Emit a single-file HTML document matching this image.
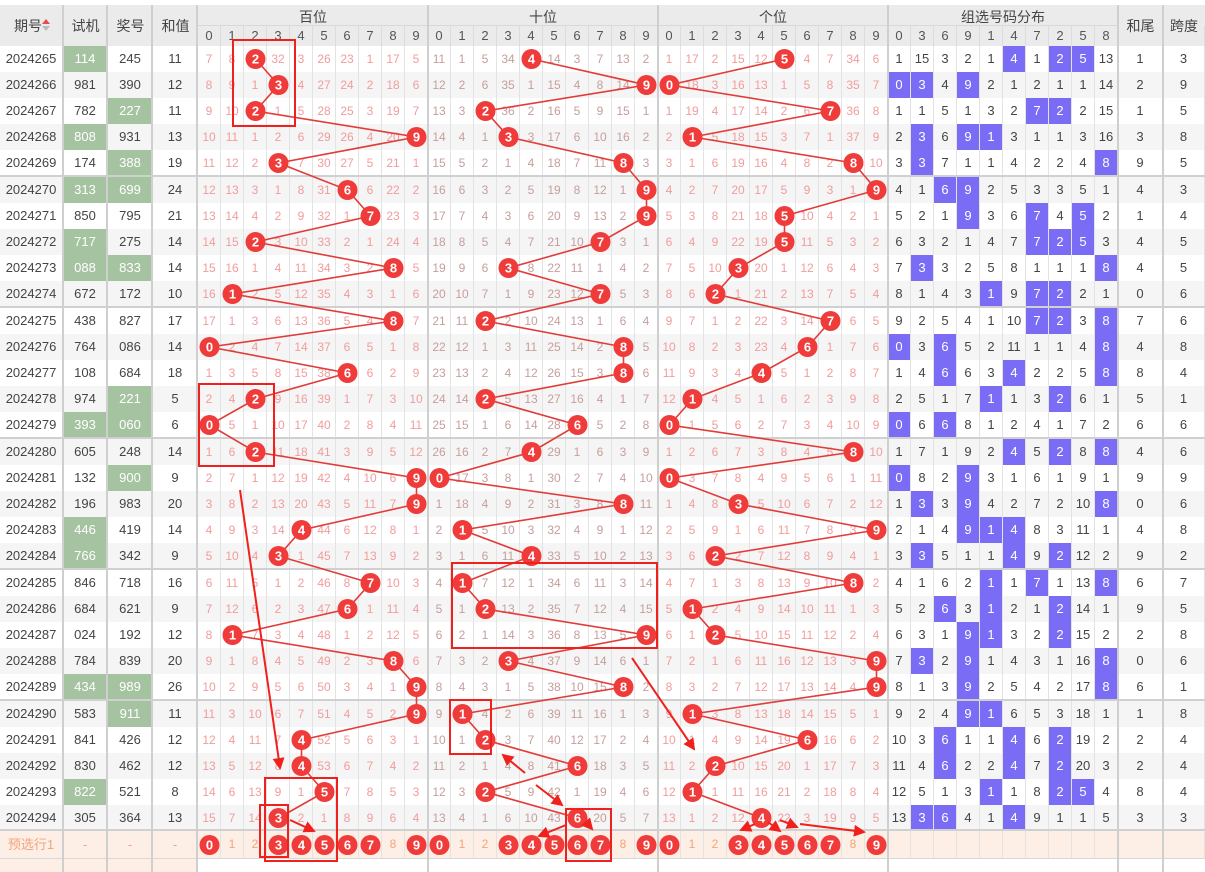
<!DOCTYPE html>
<html><head><meta charset="utf-8"><style>
body{margin:0;width:1205px;height:872px;position:relative;overflow:hidden;background:#fff;font-family:"Liberation Sans","Noto Sans CJK SC",sans-serif}
.r{position:absolute;left:0;width:1205px;height:26px;display:flex;line-height:26px;font-size:13px;color:#444;text-align:center}
.r>*{width:23px;flex:none;border-right:1px solid #e3e3e3;box-sizing:border-box;font-style:normal;height:100%}
.r>:nth-child(1){width:63px}
.r>:nth-child(2),.r>:nth-child(3),.r>:nth-child(4),.r>:nth-child(45){width:45px}
.r>:nth-child(46){width:42px}
.r>:nth-child(n+5):nth-child(-n+34){color:#f19c9c;font-size:12px}
.r>:nth-child(n+15):nth-child(-n+24){color:#c59f9c}
.o{background:#f5f5f5}
.r .k{background:#a6c3a1;color:#fff}
.r .p{background:#7b6cf6;color:#fff}
.hd{position:absolute;left:0;top:5px;width:1205px;height:41px;background:#ebebeb}
.r.h2{top:26px;height:20px;line-height:20px;background:transparent}
.r.h2>:nth-child(n):nth-child(n){color:#555;font-size:13px;border-right-color:#dcdcdc}
.lb{position:absolute;font-size:14px;color:#444;text-align:center}
.vl{position:absolute;top:5px;width:2px;height:867px;background:#cfcfcf}
.hl{position:absolute;left:0;width:1205px;height:2px;background:#d0d0d0}
.pre{top:831px;height:27px;line-height:27px;background:#fdeee6}
.r.pre>:nth-child(n):nth-child(n){color:#f0a57a}
svg{position:absolute;left:0;top:0}
</style></head><body>
<div class="hd"></div>
<div class="r h2"><i></i><i></i><i></i><i></i><i>0</i><i>1</i><i>2</i><i>3</i><i>4</i><i>5</i><i>6</i><i>7</i><i>8</i><i>9</i><i>0</i><i>1</i><i>2</i><i>3</i><i>4</i><i>5</i><i>6</i><i>7</i><i>8</i><i>9</i><i>0</i><i>1</i><i>2</i><i>3</i><i>4</i><i>5</i><i>6</i><i>7</i><i>8</i><i>9</i><i>0</i><i>3</i><i>6</i><i>9</i><i>1</i><i>4</i><i>7</i><i>2</i><i>5</i><i>8</i><i></i><i></i></div>
<div class="lb" style="left:0;top:16px;width:56px">期号</div>
<div style="position:absolute;left:42px;top:19px;width:0;height:0;border:4px solid transparent;border-bottom:5px solid #e84c4c;border-top:0"></div>
<div style="position:absolute;left:42px;top:26px;width:0;height:0;border:4px solid transparent;border-top:5px solid #bbb;border-bottom:0"></div>
<div class="lb" style="left:63px;top:16px;width:45px">试机</div>
<div class="lb" style="left:108px;top:16px;width:45px">奖号</div>
<div class="lb" style="left:153px;top:16px;width:45px">和值</div>
<div class="lb" style="left:198px;top:7px;width:230px">百位</div>
<div class="lb" style="left:428px;top:7px;width:230px">十位</div>
<div class="lb" style="left:658px;top:7px;width:230px">个位</div>
<div class="lb" style="left:888px;top:7px;width:230px">组选号码分布</div>
<div class="lb" style="left:1118px;top:16px;width:45px">和尾</div>
<div class="lb" style="left:1163px;top:16px;width:42px">跨度</div>
<div style="position:absolute;left:198px;top:25px;width:920px;height:1px;background:#d8d8d8"></div>

<div class="r" style="top:46px"><i>2024265</i><i class="k">114</i><i>245</i><i>11</i><i>7</i><i>8</i><i></i><i>32</i><i>3</i><i>26</i><i>23</i><i>1</i><i>17</i><i>5</i><i>11</i><i>1</i><i>5</i><i>34</i><i></i><i>14</i><i>3</i><i>7</i><i>13</i><i>2</i><i>1</i><i>17</i><i>2</i><i>15</i><i>12</i><i></i><i>4</i><i>7</i><i>34</i><i>6</i><i>1</i><i>15</i><i>3</i><i>2</i><i>1</i><i class="p">4</i><i>1</i><i class="p">2</i><i class="p">5</i><i>13</i><i>1</i><i>3</i></div>
<div class="r o" style="top:72px"><i>2024266</i><i>981</i><i>390</i><i>12</i><i>8</i><i>9</i><i>1</i><i></i><i>4</i><i>27</i><i>24</i><i>2</i><i>18</i><i>6</i><i>12</i><i>2</i><i>6</i><i>35</i><i>1</i><i>15</i><i>4</i><i>8</i><i>14</i><i></i><i></i><i>18</i><i>3</i><i>16</i><i>13</i><i>1</i><i>5</i><i>8</i><i>35</i><i>7</i><i class="p">0</i><i class="p">3</i><i>4</i><i class="p">9</i><i>2</i><i>1</i><i>2</i><i>1</i><i>1</i><i>14</i><i>2</i><i>9</i></div>
<div class="r" style="top:98px"><i>2024267</i><i>782</i><i class="k">227</i><i>11</i><i>9</i><i>10</i><i></i><i>1</i><i>5</i><i>28</i><i>25</i><i>3</i><i>19</i><i>7</i><i>13</i><i>3</i><i></i><i>36</i><i>2</i><i>16</i><i>5</i><i>9</i><i>15</i><i>1</i><i>1</i><i>19</i><i>4</i><i>17</i><i>14</i><i>2</i><i>6</i><i></i><i>36</i><i>8</i><i>1</i><i>1</i><i>5</i><i>1</i><i>3</i><i>2</i><i class="p">7</i><i class="p">2</i><i>2</i><i>15</i><i>1</i><i>5</i></div>
<div class="r o" style="top:124px"><i>2024268</i><i class="k">808</i><i>931</i><i>13</i><i>10</i><i>11</i><i>1</i><i>2</i><i>6</i><i>29</i><i>26</i><i>4</i><i>20</i><i></i><i>14</i><i>4</i><i>1</i><i></i><i>3</i><i>17</i><i>6</i><i>10</i><i>16</i><i>2</i><i>2</i><i></i><i>5</i><i>18</i><i>15</i><i>3</i><i>7</i><i>1</i><i>37</i><i>9</i><i>2</i><i class="p">3</i><i>6</i><i class="p">9</i><i class="p">1</i><i>3</i><i>1</i><i>1</i><i>3</i><i>16</i><i>3</i><i>8</i></div>
<div class="r" style="top:150px"><i>2024269</i><i>174</i><i class="k">388</i><i>19</i><i>11</i><i>12</i><i>2</i><i></i><i>7</i><i>30</i><i>27</i><i>5</i><i>21</i><i>1</i><i>15</i><i>5</i><i>2</i><i>1</i><i>4</i><i>18</i><i>7</i><i>11</i><i></i><i>3</i><i>3</i><i>1</i><i>6</i><i>19</i><i>16</i><i>4</i><i>8</i><i>2</i><i></i><i>10</i><i>3</i><i class="p">3</i><i>7</i><i>1</i><i>1</i><i>4</i><i>2</i><i>2</i><i>4</i><i class="p">8</i><i>9</i><i>5</i></div>
<div class="r o" style="top:177px"><i>2024270</i><i class="k">313</i><i class="k">699</i><i>24</i><i>12</i><i>13</i><i>3</i><i>1</i><i>8</i><i>31</i><i></i><i>6</i><i>22</i><i>2</i><i>16</i><i>6</i><i>3</i><i>2</i><i>5</i><i>19</i><i>8</i><i>12</i><i>1</i><i></i><i>4</i><i>2</i><i>7</i><i>20</i><i>17</i><i>5</i><i>9</i><i>3</i><i>1</i><i></i><i>4</i><i>1</i><i class="p">6</i><i class="p">9</i><i>2</i><i>5</i><i>3</i><i>3</i><i>5</i><i>1</i><i>4</i><i>3</i></div>
<div class="r" style="top:203px"><i>2024271</i><i>850</i><i>795</i><i>21</i><i>13</i><i>14</i><i>4</i><i>2</i><i>9</i><i>32</i><i>1</i><i></i><i>23</i><i>3</i><i>17</i><i>7</i><i>4</i><i>3</i><i>6</i><i>20</i><i>9</i><i>13</i><i>2</i><i></i><i>5</i><i>3</i><i>8</i><i>21</i><i>18</i><i></i><i>10</i><i>4</i><i>2</i><i>1</i><i>5</i><i>2</i><i>1</i><i class="p">9</i><i>3</i><i>6</i><i class="p">7</i><i>4</i><i class="p">5</i><i>2</i><i>1</i><i>4</i></div>
<div class="r o" style="top:229px"><i>2024272</i><i class="k">717</i><i>275</i><i>14</i><i>14</i><i>15</i><i></i><i>3</i><i>10</i><i>33</i><i>2</i><i>1</i><i>24</i><i>4</i><i>18</i><i>8</i><i>5</i><i>4</i><i>7</i><i>21</i><i>10</i><i></i><i>3</i><i>1</i><i>6</i><i>4</i><i>9</i><i>22</i><i>19</i><i></i><i>11</i><i>5</i><i>3</i><i>2</i><i>6</i><i>3</i><i>2</i><i>1</i><i>4</i><i>7</i><i class="p">7</i><i class="p">2</i><i class="p">5</i><i>3</i><i>4</i><i>5</i></div>
<div class="r" style="top:255px"><i>2024273</i><i class="k">088</i><i class="k">833</i><i>14</i><i>15</i><i>16</i><i>1</i><i>4</i><i>11</i><i>34</i><i>3</i><i>2</i><i></i><i>5</i><i>19</i><i>9</i><i>6</i><i></i><i>8</i><i>22</i><i>11</i><i>1</i><i>4</i><i>2</i><i>7</i><i>5</i><i>10</i><i></i><i>20</i><i>1</i><i>12</i><i>6</i><i>4</i><i>3</i><i>7</i><i class="p">3</i><i>3</i><i>2</i><i>5</i><i>8</i><i>1</i><i>1</i><i>1</i><i class="p">8</i><i>4</i><i>5</i></div>
<div class="r o" style="top:281px"><i>2024274</i><i>672</i><i>172</i><i>10</i><i>16</i><i></i><i>2</i><i>5</i><i>12</i><i>35</i><i>4</i><i>3</i><i>1</i><i>6</i><i>20</i><i>10</i><i>7</i><i>1</i><i>9</i><i>23</i><i>12</i><i></i><i>5</i><i>3</i><i>8</i><i>6</i><i></i><i>1</i><i>21</i><i>2</i><i>13</i><i>7</i><i>5</i><i>4</i><i>8</i><i>1</i><i>4</i><i>3</i><i class="p">1</i><i>9</i><i class="p">7</i><i class="p">2</i><i>2</i><i>1</i><i>0</i><i>6</i></div>
<div class="r" style="top:308px"><i>2024275</i><i>438</i><i>827</i><i>17</i><i>17</i><i>1</i><i>3</i><i>6</i><i>13</i><i>36</i><i>5</i><i>4</i><i></i><i>7</i><i>21</i><i>11</i><i></i><i>2</i><i>10</i><i>24</i><i>13</i><i>1</i><i>6</i><i>4</i><i>9</i><i>7</i><i>1</i><i>2</i><i>22</i><i>3</i><i>14</i><i></i><i>6</i><i>5</i><i>9</i><i>2</i><i>5</i><i>4</i><i>1</i><i>10</i><i class="p">7</i><i class="p">2</i><i>3</i><i class="p">8</i><i>7</i><i>6</i></div>
<div class="r o" style="top:334px"><i>2024276</i><i>764</i><i>086</i><i>14</i><i></i><i>2</i><i>4</i><i>7</i><i>14</i><i>37</i><i>6</i><i>5</i><i>1</i><i>8</i><i>22</i><i>12</i><i>1</i><i>3</i><i>11</i><i>25</i><i>14</i><i>2</i><i></i><i>5</i><i>10</i><i>8</i><i>2</i><i>3</i><i>23</i><i>4</i><i></i><i>1</i><i>7</i><i>6</i><i class="p">0</i><i>3</i><i class="p">6</i><i>5</i><i>2</i><i>11</i><i>1</i><i>1</i><i>4</i><i class="p">8</i><i>4</i><i>8</i></div>
<div class="r" style="top:360px"><i>2024277</i><i>108</i><i>684</i><i>18</i><i>1</i><i>3</i><i>5</i><i>8</i><i>15</i><i>38</i><i></i><i>6</i><i>2</i><i>9</i><i>23</i><i>13</i><i>2</i><i>4</i><i>12</i><i>26</i><i>15</i><i>3</i><i></i><i>6</i><i>11</i><i>9</i><i>3</i><i>4</i><i></i><i>5</i><i>1</i><i>2</i><i>8</i><i>7</i><i>1</i><i>4</i><i class="p">6</i><i>6</i><i>3</i><i class="p">4</i><i>2</i><i>2</i><i>5</i><i class="p">8</i><i>8</i><i>4</i></div>
<div class="r o" style="top:386px"><i>2024278</i><i>974</i><i class="k">221</i><i>5</i><i>2</i><i>4</i><i></i><i>9</i><i>16</i><i>39</i><i>1</i><i>7</i><i>3</i><i>10</i><i>24</i><i>14</i><i></i><i>5</i><i>13</i><i>27</i><i>16</i><i>4</i><i>1</i><i>7</i><i>12</i><i></i><i>4</i><i>5</i><i>1</i><i>6</i><i>2</i><i>3</i><i>9</i><i>8</i><i>2</i><i>5</i><i>1</i><i>7</i><i class="p">1</i><i>1</i><i>3</i><i class="p">2</i><i>6</i><i>1</i><i>5</i><i>1</i></div>
<div class="r" style="top:412px"><i>2024279</i><i class="k">393</i><i class="k">060</i><i>6</i><i></i><i>5</i><i>1</i><i>10</i><i>17</i><i>40</i><i>2</i><i>8</i><i>4</i><i>11</i><i>25</i><i>15</i><i>1</i><i>6</i><i>14</i><i>28</i><i></i><i>5</i><i>2</i><i>8</i><i></i><i>1</i><i>5</i><i>6</i><i>2</i><i>7</i><i>3</i><i>4</i><i>10</i><i>9</i><i class="p">0</i><i>6</i><i class="p">6</i><i>8</i><i>1</i><i>2</i><i>4</i><i>1</i><i>7</i><i>2</i><i>6</i><i>6</i></div>
<div class="r o" style="top:439px"><i>2024280</i><i>605</i><i>248</i><i>14</i><i>1</i><i>6</i><i></i><i>11</i><i>18</i><i>41</i><i>3</i><i>9</i><i>5</i><i>12</i><i>26</i><i>16</i><i>2</i><i>7</i><i></i><i>29</i><i>1</i><i>6</i><i>3</i><i>9</i><i>1</i><i>2</i><i>6</i><i>7</i><i>3</i><i>8</i><i>4</i><i>5</i><i></i><i>10</i><i>1</i><i>7</i><i>1</i><i>9</i><i>2</i><i class="p">4</i><i>5</i><i class="p">2</i><i>8</i><i class="p">8</i><i>4</i><i>6</i></div>
<div class="r" style="top:465px"><i>2024281</i><i>132</i><i class="k">900</i><i>9</i><i>2</i><i>7</i><i>1</i><i>12</i><i>19</i><i>42</i><i>4</i><i>10</i><i>6</i><i></i><i></i><i>17</i><i>3</i><i>8</i><i>1</i><i>30</i><i>2</i><i>7</i><i>4</i><i>10</i><i></i><i>3</i><i>7</i><i>8</i><i>4</i><i>9</i><i>5</i><i>6</i><i>1</i><i>11</i><i class="p">0</i><i>8</i><i>2</i><i class="p">9</i><i>3</i><i>1</i><i>6</i><i>1</i><i>9</i><i>1</i><i>9</i><i>9</i></div>
<div class="r o" style="top:491px"><i>2024282</i><i>196</i><i>983</i><i>20</i><i>3</i><i>8</i><i>2</i><i>13</i><i>20</i><i>43</i><i>5</i><i>11</i><i>7</i><i></i><i>1</i><i>18</i><i>4</i><i>9</i><i>2</i><i>31</i><i>3</i><i>8</i><i></i><i>11</i><i>1</i><i>4</i><i>8</i><i></i><i>5</i><i>10</i><i>6</i><i>7</i><i>2</i><i>12</i><i>1</i><i class="p">3</i><i>3</i><i class="p">9</i><i>4</i><i>2</i><i>7</i><i>2</i><i>10</i><i class="p">8</i><i>0</i><i>6</i></div>
<div class="r" style="top:517px"><i>2024283</i><i class="k">446</i><i>419</i><i>14</i><i>4</i><i>9</i><i>3</i><i>14</i><i></i><i>44</i><i>6</i><i>12</i><i>8</i><i>1</i><i>2</i><i></i><i>5</i><i>10</i><i>3</i><i>32</i><i>4</i><i>9</i><i>1</i><i>12</i><i>2</i><i>5</i><i>9</i><i>1</i><i>6</i><i>11</i><i>7</i><i>8</i><i>3</i><i></i><i>2</i><i>1</i><i>4</i><i class="p">9</i><i class="p">1</i><i class="p">4</i><i>8</i><i>3</i><i>11</i><i>1</i><i>4</i><i>8</i></div>
<div class="r o" style="top:543px"><i>2024284</i><i class="k">766</i><i>342</i><i>9</i><i>5</i><i>10</i><i>4</i><i></i><i>1</i><i>45</i><i>7</i><i>13</i><i>9</i><i>2</i><i>3</i><i>1</i><i>6</i><i>11</i><i></i><i>33</i><i>5</i><i>10</i><i>2</i><i>13</i><i>3</i><i>6</i><i></i><i>2</i><i>7</i><i>12</i><i>8</i><i>9</i><i>4</i><i>1</i><i>3</i><i class="p">3</i><i>5</i><i>1</i><i>1</i><i class="p">4</i><i>9</i><i class="p">2</i><i>12</i><i>2</i><i>9</i><i>2</i></div>
<div class="r" style="top:570px"><i>2024285</i><i>846</i><i>718</i><i>16</i><i>6</i><i>11</i><i>5</i><i>1</i><i>2</i><i>46</i><i>8</i><i></i><i>10</i><i>3</i><i>4</i><i></i><i>7</i><i>12</i><i>1</i><i>34</i><i>6</i><i>11</i><i>3</i><i>14</i><i>4</i><i>7</i><i>1</i><i>3</i><i>8</i><i>13</i><i>9</i><i>10</i><i></i><i>2</i><i>4</i><i>1</i><i>6</i><i>2</i><i class="p">1</i><i>1</i><i class="p">7</i><i>1</i><i>13</i><i class="p">8</i><i>6</i><i>7</i></div>
<div class="r o" style="top:596px"><i>2024286</i><i>684</i><i>621</i><i>9</i><i>7</i><i>12</i><i>6</i><i>2</i><i>3</i><i>47</i><i></i><i>1</i><i>11</i><i>4</i><i>5</i><i>1</i><i></i><i>13</i><i>2</i><i>35</i><i>7</i><i>12</i><i>4</i><i>15</i><i>5</i><i></i><i>2</i><i>4</i><i>9</i><i>14</i><i>10</i><i>11</i><i>1</i><i>3</i><i>5</i><i>2</i><i class="p">6</i><i>3</i><i class="p">1</i><i>2</i><i>1</i><i class="p">2</i><i>14</i><i>1</i><i>9</i><i>5</i></div>
<div class="r" style="top:622px"><i>2024287</i><i>024</i><i>192</i><i>12</i><i>8</i><i></i><i>7</i><i>3</i><i>4</i><i>48</i><i>1</i><i>2</i><i>12</i><i>5</i><i>6</i><i>2</i><i>1</i><i>14</i><i>3</i><i>36</i><i>8</i><i>13</i><i>5</i><i></i><i>6</i><i>1</i><i></i><i>5</i><i>10</i><i>15</i><i>11</i><i>12</i><i>2</i><i>4</i><i>6</i><i>3</i><i>1</i><i class="p">9</i><i class="p">1</i><i>3</i><i>2</i><i class="p">2</i><i>15</i><i>2</i><i>2</i><i>8</i></div>
<div class="r o" style="top:648px"><i>2024288</i><i>784</i><i>839</i><i>20</i><i>9</i><i>1</i><i>8</i><i>4</i><i>5</i><i>49</i><i>2</i><i>3</i><i></i><i>6</i><i>7</i><i>3</i><i>2</i><i></i><i>4</i><i>37</i><i>9</i><i>14</i><i>6</i><i>1</i><i>7</i><i>2</i><i>1</i><i>6</i><i>11</i><i>16</i><i>12</i><i>13</i><i>3</i><i></i><i>7</i><i class="p">3</i><i>2</i><i class="p">9</i><i>1</i><i>4</i><i>3</i><i>1</i><i>16</i><i class="p">8</i><i>0</i><i>6</i></div>
<div class="r" style="top:674px"><i>2024289</i><i class="k">434</i><i class="k">989</i><i>26</i><i>10</i><i>2</i><i>9</i><i>5</i><i>6</i><i>50</i><i>3</i><i>4</i><i>1</i><i></i><i>8</i><i>4</i><i>3</i><i>1</i><i>5</i><i>38</i><i>10</i><i>15</i><i></i><i>2</i><i>8</i><i>3</i><i>2</i><i>7</i><i>12</i><i>17</i><i>13</i><i>14</i><i>4</i><i></i><i>8</i><i>1</i><i>3</i><i class="p">9</i><i>2</i><i>5</i><i>4</i><i>2</i><i>17</i><i class="p">8</i><i>6</i><i>1</i></div>
<div class="r o" style="top:701px"><i>2024290</i><i>583</i><i class="k">911</i><i>11</i><i>11</i><i>3</i><i>10</i><i>6</i><i>7</i><i>51</i><i>4</i><i>5</i><i>2</i><i></i><i>9</i><i></i><i>4</i><i>2</i><i>6</i><i>39</i><i>11</i><i>16</i><i>1</i><i>3</i><i>9</i><i></i><i>3</i><i>8</i><i>13</i><i>18</i><i>14</i><i>15</i><i>5</i><i>1</i><i>9</i><i>2</i><i>4</i><i class="p">9</i><i class="p">1</i><i>6</i><i>5</i><i>3</i><i>18</i><i>1</i><i>1</i><i>8</i></div>
<div class="r" style="top:727px"><i>2024291</i><i>841</i><i>426</i><i>12</i><i>12</i><i>4</i><i>11</i><i>7</i><i></i><i>52</i><i>5</i><i>6</i><i>3</i><i>1</i><i>10</i><i>1</i><i></i><i>3</i><i>7</i><i>40</i><i>12</i><i>17</i><i>2</i><i>4</i><i>10</i><i>1</i><i>4</i><i>9</i><i>14</i><i>19</i><i></i><i>16</i><i>6</i><i>2</i><i>10</i><i>3</i><i class="p">6</i><i>1</i><i>1</i><i class="p">4</i><i>6</i><i class="p">2</i><i>19</i><i>2</i><i>2</i><i>4</i></div>
<div class="r o" style="top:753px"><i>2024292</i><i>830</i><i>462</i><i>12</i><i>13</i><i>5</i><i>12</i><i>8</i><i></i><i>53</i><i>6</i><i>7</i><i>4</i><i>2</i><i>11</i><i>2</i><i>1</i><i>4</i><i>8</i><i>41</i><i></i><i>18</i><i>3</i><i>5</i><i>11</i><i>2</i><i></i><i>10</i><i>15</i><i>20</i><i>1</i><i>17</i><i>7</i><i>3</i><i>11</i><i>4</i><i class="p">6</i><i>2</i><i>2</i><i class="p">4</i><i>7</i><i class="p">2</i><i>20</i><i>3</i><i>2</i><i>4</i></div>
<div class="r" style="top:779px"><i>2024293</i><i class="k">822</i><i>521</i><i>8</i><i>14</i><i>6</i><i>13</i><i>9</i><i>1</i><i></i><i>7</i><i>8</i><i>5</i><i>3</i><i>12</i><i>3</i><i></i><i>5</i><i>9</i><i>42</i><i>1</i><i>19</i><i>4</i><i>6</i><i>12</i><i></i><i>1</i><i>11</i><i>16</i><i>21</i><i>2</i><i>18</i><i>8</i><i>4</i><i>12</i><i>5</i><i>1</i><i>3</i><i class="p">1</i><i>1</i><i>8</i><i class="p">2</i><i class="p">5</i><i>4</i><i>8</i><i>4</i></div>
<div class="r o" style="top:805px"><i>2024294</i><i>305</i><i>364</i><i>13</i><i>15</i><i>7</i><i>14</i><i></i><i>2</i><i>1</i><i>8</i><i>9</i><i>6</i><i>4</i><i>13</i><i>4</i><i>1</i><i>6</i><i>10</i><i>43</i><i></i><i>20</i><i>5</i><i>7</i><i>13</i><i>1</i><i>2</i><i>12</i><i></i><i>22</i><i>3</i><i>19</i><i>9</i><i>5</i><i>13</i><i class="p">3</i><i class="p">6</i><i>4</i><i>1</i><i class="p">4</i><i>9</i><i>1</i><i>1</i><i>5</i><i>3</i><i>3</i></div>
<div class="r pre"><i>预选行1</i><i>-</i><i>-</i><i>-</i><i></i><i>1</i><i>2</i><i></i><i></i><i></i><i></i><i></i><i>8</i><i></i><i></i><i>1</i><i>2</i><i></i><i></i><i></i><i></i><i></i><i>8</i><i></i><i></i><i>1</i><i>2</i><i></i><i></i><i></i><i></i><i></i><i>8</i><i></i><i></i><i></i><i></i><i></i><i></i><i></i><i></i><i></i><i></i><i></i><i></i><i></i></div>
<div style="position:absolute;left:0;top:858px;width:198px;height:14px;background:#fdeee6"></div>
<div style="position:absolute;left:0;top:858px;width:1205px;height:1px;background:#d8d8d8"></div>

<div class="hl" style="top:175px"></div><div class="hl" style="top:306px"></div><div class="hl" style="top:437px"></div><div class="hl" style="top:568px"></div><div class="hl" style="top:699px"></div><div class="hl" style="top:829px"></div>
<div class="vl" style="left:62px"></div><div class="vl" style="left:106px"></div><div class="vl" style="left:151px"></div><div class="vl" style="left:196px"></div><div class="vl" style="left:427px"></div><div class="vl" style="left:657px"></div><div class="vl" style="left:887px"></div><div class="vl" style="left:1117px"></div><div class="vl" style="left:1162px"></div>

<svg width="1205" height="872" viewBox="0 0 1205 872">
<defs><marker id="ah" markerWidth="6" markerHeight="6" refX="5" refY="3" orient="auto"><path d="M0,0L6,3L0,6z" fill="#f0201c"/></marker></defs>
<g fill="none" stroke="#e23b38" stroke-width="1.6">
<polyline points="255.5,59 278.5,85 255.5,111 416.5,137 278.5,163 347.5,190 370.5,216 255.5,242 393.5,268 232.5,294 393.5,321 209.5,347 347.5,373 255.5,399 209.5,425 255.5,452 416.5,478 416.5,504 301.5,530 278.5,556 370.5,583 347.5,609 232.5,635 393.5,661 416.5,687 416.5,714 301.5,740 301.5,766 324.5,792 278.5,818"/>
<polyline points="531.5,59 646.5,85 485.5,111 508.5,137 623.5,163 646.5,190 646.5,216 600.5,242 508.5,268 600.5,294 485.5,321 623.5,347 623.5,373 485.5,399 577.5,425 531.5,452 439.5,478 623.5,504 462.5,530 531.5,556 462.5,583 485.5,609 646.5,635 508.5,661 623.5,687 462.5,714 485.5,740 577.5,766 485.5,792 577.5,818"/>
<polyline points="784.5,59 669.5,85 830.5,111 692.5,137 853.5,163 876.5,190 784.5,216 784.5,242 738.5,268 715.5,294 830.5,321 807.5,347 761.5,373 692.5,399 669.5,425 853.5,452 669.5,478 738.5,504 876.5,530 715.5,556 853.5,583 692.5,609 715.5,635 876.5,661 876.5,687 692.5,714 807.5,740 715.5,766 692.5,792 761.5,818"/>
</g>
<g fill="#ef3c3a">
<circle cx="255.5" cy="59" r="10"/><circle cx="278.5" cy="85" r="10"/><circle cx="255.5" cy="111" r="10"/><circle cx="416.5" cy="137" r="10"/><circle cx="278.5" cy="163" r="10"/><circle cx="347.5" cy="190" r="10"/><circle cx="370.5" cy="216" r="10"/><circle cx="255.5" cy="242" r="10"/><circle cx="393.5" cy="268" r="10"/><circle cx="232.5" cy="294" r="10"/><circle cx="393.5" cy="321" r="10"/><circle cx="209.5" cy="347" r="10"/><circle cx="347.5" cy="373" r="10"/><circle cx="255.5" cy="399" r="10"/><circle cx="209.5" cy="425" r="10"/><circle cx="255.5" cy="452" r="10"/><circle cx="416.5" cy="478" r="10"/><circle cx="416.5" cy="504" r="10"/><circle cx="301.5" cy="530" r="10"/><circle cx="278.5" cy="556" r="10"/><circle cx="370.5" cy="583" r="10"/><circle cx="347.5" cy="609" r="10"/><circle cx="232.5" cy="635" r="10"/><circle cx="393.5" cy="661" r="10"/><circle cx="416.5" cy="687" r="10"/><circle cx="416.5" cy="714" r="10"/><circle cx="301.5" cy="740" r="10"/><circle cx="301.5" cy="766" r="10"/><circle cx="324.5" cy="792" r="10"/><circle cx="278.5" cy="818" r="10"/>
<circle cx="531.5" cy="59" r="10"/><circle cx="646.5" cy="85" r="10"/><circle cx="485.5" cy="111" r="10"/><circle cx="508.5" cy="137" r="10"/><circle cx="623.5" cy="163" r="10"/><circle cx="646.5" cy="190" r="10"/><circle cx="646.5" cy="216" r="10"/><circle cx="600.5" cy="242" r="10"/><circle cx="508.5" cy="268" r="10"/><circle cx="600.5" cy="294" r="10"/><circle cx="485.5" cy="321" r="10"/><circle cx="623.5" cy="347" r="10"/><circle cx="623.5" cy="373" r="10"/><circle cx="485.5" cy="399" r="10"/><circle cx="577.5" cy="425" r="10"/><circle cx="531.5" cy="452" r="10"/><circle cx="439.5" cy="478" r="10"/><circle cx="623.5" cy="504" r="10"/><circle cx="462.5" cy="530" r="10"/><circle cx="531.5" cy="556" r="10"/><circle cx="462.5" cy="583" r="10"/><circle cx="485.5" cy="609" r="10"/><circle cx="646.5" cy="635" r="10"/><circle cx="508.5" cy="661" r="10"/><circle cx="623.5" cy="687" r="10"/><circle cx="462.5" cy="714" r="10"/><circle cx="485.5" cy="740" r="10"/><circle cx="577.5" cy="766" r="10"/><circle cx="485.5" cy="792" r="10"/><circle cx="577.5" cy="818" r="10"/>
<circle cx="784.5" cy="59" r="10"/><circle cx="669.5" cy="85" r="10"/><circle cx="830.5" cy="111" r="10"/><circle cx="692.5" cy="137" r="10"/><circle cx="853.5" cy="163" r="10"/><circle cx="876.5" cy="190" r="10"/><circle cx="784.5" cy="216" r="10"/><circle cx="784.5" cy="242" r="10"/><circle cx="738.5" cy="268" r="10"/><circle cx="715.5" cy="294" r="10"/><circle cx="830.5" cy="321" r="10"/><circle cx="807.5" cy="347" r="10"/><circle cx="761.5" cy="373" r="10"/><circle cx="692.5" cy="399" r="10"/><circle cx="669.5" cy="425" r="10"/><circle cx="853.5" cy="452" r="10"/><circle cx="669.5" cy="478" r="10"/><circle cx="738.5" cy="504" r="10"/><circle cx="876.5" cy="530" r="10"/><circle cx="715.5" cy="556" r="10"/><circle cx="853.5" cy="583" r="10"/><circle cx="692.5" cy="609" r="10"/><circle cx="715.5" cy="635" r="10"/><circle cx="876.5" cy="661" r="10"/><circle cx="876.5" cy="687" r="10"/><circle cx="692.5" cy="714" r="10"/><circle cx="807.5" cy="740" r="10"/><circle cx="715.5" cy="766" r="10"/><circle cx="692.5" cy="792" r="10"/><circle cx="761.5" cy="818" r="10"/>
<circle cx="209.5" cy="845" r="10"/><circle cx="278.5" cy="845" r="10"/><circle cx="301.5" cy="845" r="10"/><circle cx="324.5" cy="845" r="10"/><circle cx="347.5" cy="845" r="10"/><circle cx="370.5" cy="845" r="10"/><circle cx="416.5" cy="845" r="10"/>
<circle cx="439.5" cy="845" r="10"/><circle cx="508.5" cy="845" r="10"/><circle cx="531.5" cy="845" r="10"/><circle cx="554.5" cy="845" r="10"/><circle cx="577.5" cy="845" r="10"/><circle cx="600.5" cy="845" r="10"/><circle cx="646.5" cy="845" r="10"/>
<circle cx="669.5" cy="845" r="10"/><circle cx="738.5" cy="845" r="10"/><circle cx="761.5" cy="845" r="10"/><circle cx="784.5" cy="845" r="10"/><circle cx="807.5" cy="845" r="10"/><circle cx="830.5" cy="845" r="10"/><circle cx="876.5" cy="845" r="10"/>
</g>
<g fill="#fff" font-family="Liberation Sans,sans-serif" font-size="13" font-weight="bold" text-anchor="middle">
<text x="255.5" y="63.5">2</text><text x="278.5" y="89.5">3</text><text x="255.5" y="115.5">2</text><text x="416.5" y="141.5">9</text><text x="278.5" y="167.5">3</text><text x="347.5" y="194.5">6</text><text x="370.5" y="220.5">7</text><text x="255.5" y="246.5">2</text><text x="393.5" y="272.5">8</text><text x="232.5" y="298.5">1</text><text x="393.5" y="325.5">8</text><text x="209.5" y="351.5">0</text><text x="347.5" y="377.5">6</text><text x="255.5" y="403.5">2</text><text x="209.5" y="429.5">0</text><text x="255.5" y="456.5">2</text><text x="416.5" y="482.5">9</text><text x="416.5" y="508.5">9</text><text x="301.5" y="534.5">4</text><text x="278.5" y="560.5">3</text><text x="370.5" y="587.5">7</text><text x="347.5" y="613.5">6</text><text x="232.5" y="639.5">1</text><text x="393.5" y="665.5">8</text><text x="416.5" y="691.5">9</text><text x="416.5" y="718.5">9</text><text x="301.5" y="744.5">4</text><text x="301.5" y="770.5">4</text><text x="324.5" y="796.5">5</text><text x="278.5" y="822.5">3</text>
<text x="531.5" y="63.5">4</text><text x="646.5" y="89.5">9</text><text x="485.5" y="115.5">2</text><text x="508.5" y="141.5">3</text><text x="623.5" y="167.5">8</text><text x="646.5" y="194.5">9</text><text x="646.5" y="220.5">9</text><text x="600.5" y="246.5">7</text><text x="508.5" y="272.5">3</text><text x="600.5" y="298.5">7</text><text x="485.5" y="325.5">2</text><text x="623.5" y="351.5">8</text><text x="623.5" y="377.5">8</text><text x="485.5" y="403.5">2</text><text x="577.5" y="429.5">6</text><text x="531.5" y="456.5">4</text><text x="439.5" y="482.5">0</text><text x="623.5" y="508.5">8</text><text x="462.5" y="534.5">1</text><text x="531.5" y="560.5">4</text><text x="462.5" y="587.5">1</text><text x="485.5" y="613.5">2</text><text x="646.5" y="639.5">9</text><text x="508.5" y="665.5">3</text><text x="623.5" y="691.5">8</text><text x="462.5" y="718.5">1</text><text x="485.5" y="744.5">2</text><text x="577.5" y="770.5">6</text><text x="485.5" y="796.5">2</text><text x="577.5" y="822.5">6</text>
<text x="784.5" y="63.5">5</text><text x="669.5" y="89.5">0</text><text x="830.5" y="115.5">7</text><text x="692.5" y="141.5">1</text><text x="853.5" y="167.5">8</text><text x="876.5" y="194.5">9</text><text x="784.5" y="220.5">5</text><text x="784.5" y="246.5">5</text><text x="738.5" y="272.5">3</text><text x="715.5" y="298.5">2</text><text x="830.5" y="325.5">7</text><text x="807.5" y="351.5">6</text><text x="761.5" y="377.5">4</text><text x="692.5" y="403.5">1</text><text x="669.5" y="429.5">0</text><text x="853.5" y="456.5">8</text><text x="669.5" y="482.5">0</text><text x="738.5" y="508.5">3</text><text x="876.5" y="534.5">9</text><text x="715.5" y="560.5">2</text><text x="853.5" y="587.5">8</text><text x="692.5" y="613.5">1</text><text x="715.5" y="639.5">2</text><text x="876.5" y="665.5">9</text><text x="876.5" y="691.5">9</text><text x="692.5" y="718.5">1</text><text x="807.5" y="744.5">6</text><text x="715.5" y="770.5">2</text><text x="692.5" y="796.5">1</text><text x="761.5" y="822.5">4</text>
<text x="209.5" y="849.5">0</text><text x="278.5" y="849.5">3</text><text x="301.5" y="849.5">4</text><text x="324.5" y="849.5">5</text><text x="347.5" y="849.5">6</text><text x="370.5" y="849.5">7</text><text x="416.5" y="849.5">9</text>
<text x="439.5" y="849.5">0</text><text x="508.5" y="849.5">3</text><text x="531.5" y="849.5">4</text><text x="554.5" y="849.5">5</text><text x="577.5" y="849.5">6</text><text x="600.5" y="849.5">7</text><text x="646.5" y="849.5">9</text>
<text x="669.5" y="849.5">0</text><text x="738.5" y="849.5">3</text><text x="761.5" y="849.5">4</text><text x="784.5" y="849.5">5</text><text x="807.5" y="849.5">6</text><text x="830.5" y="849.5">7</text><text x="876.5" y="849.5">9</text>
</g>
<g fill="none" stroke="#f0201c" stroke-width="2">
<rect x="233" y="40" width="62" height="86"/>
<rect x="199" y="384" width="75" height="82"/>
<rect x="452" y="563" width="205" height="85"/>
<rect x="450" y="700" width="41" height="54"/>
<rect x="265" y="778" width="72" height="83"/>
<rect x="260" y="805" width="28" height="52"/>
<rect x="566" y="809" width="45" height="52"/>
<g marker-end="url(#ah)">
<line x1="240" y1="490" x2="280" y2="768"/>
<line x1="290" y1="820" x2="314" y2="831"/>
<line x1="525" y1="773" x2="503" y2="755"/>
<line x1="536" y1="785" x2="562" y2="805"/>
<line x1="566" y1="825" x2="539" y2="836"/>
<line x1="586" y1="822" x2="592" y2="829"/>
<line x1="632" y1="658" x2="694" y2="749"/>
<line x1="755" y1="824" x2="741" y2="830"/>
<line x1="768" y1="822" x2="780" y2="831"/>
<line x1="780" y1="820" x2="797" y2="827"/>
<line x1="800" y1="824" x2="864" y2="832"/>
</g>
</g>
</svg>
</body></html>
